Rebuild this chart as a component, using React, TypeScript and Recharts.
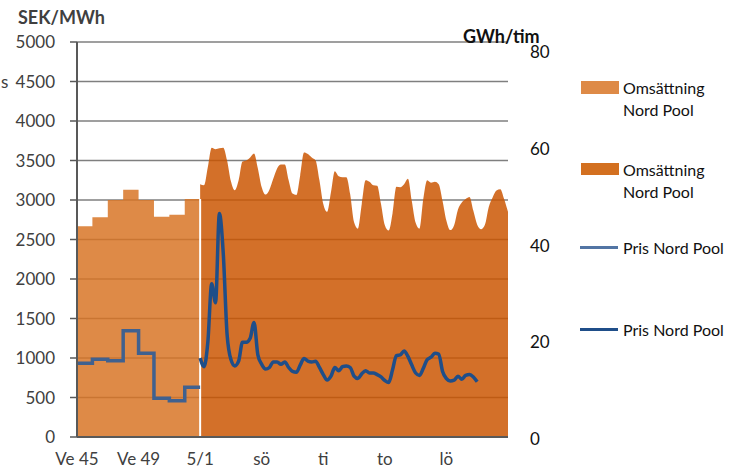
import React from 'react';
import {
  ComposedChart,
  Area,
  Line,
  XAxis,
  YAxis,
  CartesianGrid,
  ReferenceLine
} from 'recharts';

// weekly part (Ve 45 - Ve 52), one value per week
const weekLabels = ['Ve 45', 'Ve 46', 'Ve 47', 'Ve 48', 'Ve 49', 'Ve 50', 'Ve 51', 'Ve 52'];
const weeklyVolume = [42.7, 44.5, 48.0, 50.1, 48.0, 44.6, 45.0, 48.2]; // GWh/tim
const weeklyPrice = [935, 985, 965, 1345, 1060, 490, 460, 630]; // SEK/MWh

// hourly part from 5/1, one value every 3 hours
const hourlyVolume = [
  51.2, 51.0, 54.7, 58.6, 58.3, 58.5, 58.6, 56.0, 51.8, 50.0,
  52.0, 55.8, 56.0, 56.6, 57.4, 54.4, 50.6, 49.1, 50.1, 52.3,
  54.4, 55.2, 55.2, 52.0, 49.3, 49.0, 53.0, 57.6, 57.3, 56.6,
  56.0, 52.0, 47.2, 45.6, 49.6, 53.8, 52.8, 52.6, 52.6, 49.1,
  43.5, 42.2, 47.2, 52.0, 51.7, 51.0, 50.9, 47.2, 42.9, 41.8,
  45.3, 50.7, 50.6, 51.2, 52.3, 47.8, 43.4, 42.2, 48.3, 52.0,
  51.5, 51.7, 51.2, 47.8, 43.8, 41.9, 42.9, 46.1, 47.5, 48.2,
  48.6, 45.8, 43.0, 42.1, 43.0, 46.6, 48.5, 49.9, 50.2, 48.2,
  45.6
];
const hourlyPrice = [
  1000, 890, 1200, 1940, 1700, 2830, 2330, 1300, 980, 900,
  960, 1200, 1200, 1250, 1450, 1040, 920, 860, 880, 950,
  950, 920, 950, 880, 830, 820, 910, 995, 960, 950,
  960, 880, 790, 720, 770, 880, 840, 890, 900, 880,
  770, 740, 800, 840, 810, 810, 790, 760, 715, 690,
  850, 1030, 1040, 1090, 1020, 910, 810, 780, 870, 980,
  1010, 1060, 1050, 830, 740, 710, 720, 770, 730, 780,
  790, 760, 700
];

const xTickValues = [-96, -48, 0, 48, 96, 144, 192];
const xTickLabels = ['Ve 45', 'Ve 49', '5/1', 'sö', 'ti', 'to', 'lö'];
const priceTicks = [0, 500, 1000, 1500, 2000, 2500, 3000, 3500, 4000, 4500, 5000];
const volumeTicks = [0, 20, 40, 60, 80];

const WEEK_SPAN = 12; // x units per week
const HOUR_STEP = 3;
const weekStart = -WEEK_SPAN * weekLabels.length;

const weeklyVolumeData = [
  ...weeklyVolume.map((v, i) => ({ x: weekStart + i * WEEK_SPAN, v })),
  { x: 0, v: weeklyVolume[weeklyVolume.length - 1] }
];
const weeklyPriceData = [
  ...weeklyPrice.map((p, i) => ({ x: weekStart + i * WEEK_SPAN, p })),
  { x: 0, p: weeklyPrice[weeklyPrice.length - 1] }
];
const hourlyVolumeData = hourlyVolume.map((v, i) => ({ x: i * HOUR_STEP, v }));
const hourlyPriceData = hourlyPrice.map((p, i) => ({ x: i * HOUR_STEP, p }));

const FONT = "Lato, 'Open Sans', sans-serif";
const AXIS = '#595959';

const RightTick = ({ x, y, payload }: any) => (
  <text
    x={x}
    y={y + 2 + payload.value * 0.1}
    dy="0.355em"
    textAnchor="start"
    fontSize={17}
    fontFamily={FONT}
    fill="#111"
  >
    {payload.value}
  </text>
);

const legendText: React.CSSProperties = {
  position: 'absolute',
  left: 623,
  fontSize: 16,
  lineHeight: '22px',
  fontFamily: FONT,
  color: '#111'
};

export default function App() {
  return (
    <div style={{ position: 'absolute', left: 0, top: 0, width: 730, height: 473, background: '#fff' }}>
      <ComposedChart
        width={730}
        height={473}
        margin={{ top: 42, right: 0, left: 0, bottom: 0 }}
      >
        <CartesianGrid
          yAxisId="left"
          vertical={false}
          stroke="#7f7f7f"
          strokeWidth={1.4}
        />
        <XAxis
          dataKey="x"
          type="number"
          domain={[weekStart, 240]}
          ticks={xTickValues}
          interval={0}
          allowDataOverflow
          tickFormatter={(v) => xTickLabels[xTickValues.indexOf(v)]}
          height={36}
          tickLine={false}
          tickSize={0}
          tickMargin={16}
          axisLine={{ stroke: AXIS, strokeWidth: 2 }}
          tick={{ fontSize: 17, fontFamily: FONT, fill: '#404040' }}
        />
        <YAxis
          yAxisId="left"
          domain={[0, 5000]}
          ticks={priceTicks}
          interval={0}
          width={77}
          tickSize={7}
          tickMargin={15}
          axisLine={{ stroke: AXIS, strokeWidth: 2 }}
          tickLine={{ stroke: AXIS, strokeWidth: 1.5 }}
          tick={{ fontSize: 17, fontFamily: FONT, fill: '#404040' }}
        />
        <YAxis
          yAxisId="right"
          orientation="right"
          domain={[0, 80]}
          ticks={volumeTicks}
          interval={0}
          width={222}
          axisLine={false}
          tickLine={false}
          tickSize={0}
          tickMargin={22}
          tick={<RightTick />}
        />
        <Area
          yAxisId="right"
          data={weeklyVolumeData}
          dataKey="v"
          type="stepAfter"
          fill="#D87424"
          fillOpacity={0.84}
          stroke="none"
          isAnimationActive={false}
        />
        <Area
          yAxisId="right"
          data={hourlyVolumeData}
          dataKey="v"
          type="monotone"
          fill="#CB5500"
          fillOpacity={0.84}
          stroke="none"
          isAnimationActive={false}
        />
        <ReferenceLine
          yAxisId="right"
          segment={[
            { x: 0, y: 0 },
            { x: 0, y: weeklyVolume[weeklyVolume.length - 1] }
          ]}
          stroke="#fff"
          strokeWidth={2}
        />
        <Line
          yAxisId="left"
          data={weeklyPriceData}
          dataKey="p"
          type="stepAfter"
          stroke="#40618F"
          strokeWidth={3.5}
          dot={false}
          isAnimationActive={false}
        />
        <Line
          yAxisId="left"
          data={hourlyPriceData}
          dataKey="p"
          type="monotone"
          stroke="#1F4E89"
          strokeWidth={3.5}
          dot={false}
          isAnimationActive={false}
        />
      </ComposedChart>

      {/* axis titles */}
      <div style={{ position: 'absolute', left: 18, top: 6, fontSize: 18, fontWeight: 700, fontFamily: FONT, color: '#404040' }}>
        SEK/MWh
      </div>
      <div style={{ position: 'absolute', left: 463, top: 25, fontSize: 18, fontWeight: 700, fontFamily: FONT, color: '#111' }}>
        GWh/tim
      </div>
      <div style={{ position: 'absolute', left: 1, top: 71, fontSize: 17, fontFamily: FONT, color: '#404040' }}>
        s
      </div>

      {/* legend */}
      <div style={{ position: 'absolute', left: 581, top: 81, width: 38, height: 13, background: '#DE8A47' }} />
      <div style={{ ...legendText, top: 77 }}>Omsättning<br />Nord Pool</div>
      <div style={{ position: 'absolute', left: 581, top: 163, width: 38, height: 12, background: '#D37020' }} />
      <div style={{ ...legendText, top: 159 }}>Omsättning<br />Nord Pool</div>
      <div style={{ position: 'absolute', left: 580, top: 246, width: 38, height: 3, background: '#5275A4' }} />
      <div style={{ ...legendText, top: 237 }}>Pris Nord Pool</div>
      <div style={{ position: 'absolute', left: 580, top: 328, width: 38, height: 3, background: '#1F4E89' }} />
      <div style={{ ...legendText, top: 319 }}>Pris Nord Pool</div>
    </div>
  );
}
